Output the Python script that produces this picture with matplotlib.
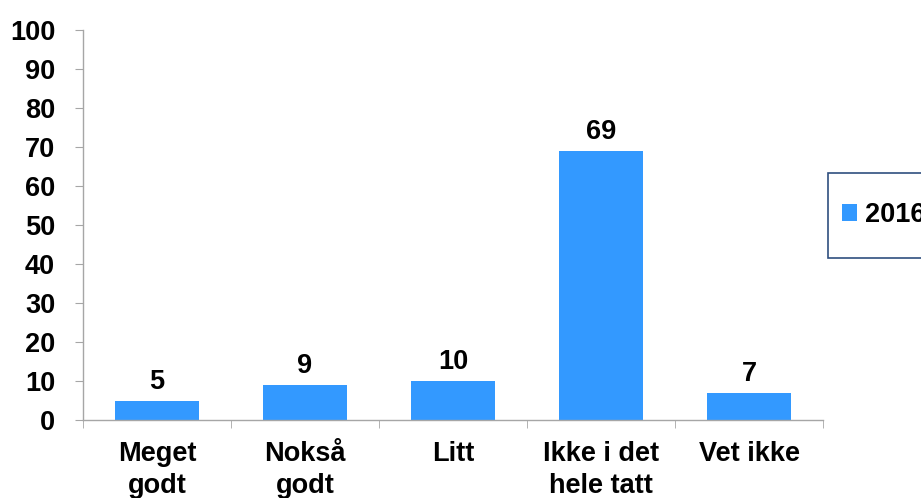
import matplotlib
matplotlib.use("Agg")
import matplotlib.pyplot as plt
from matplotlib.patches import Rectangle

categories = ["Meget\ngodt", "Nokså\ngodt", "Litt", "Ikke i det\nhele tatt", "Vet ikke"]
values_2016 = [5, 9, 10, 69, 7]
series_name = "2016"
y_ticks = [0, 10, 20, 30, 40, 50, 60, 70, 80, 90, 100]

BAR = "#3399FF"
AXIS = "#A6A6A6"
FONT = ["Liberation Sans", "DejaVu Sans"]
FS = 19.5

plt.rcParams["font.family"] = FONT
plt.rcParams["font.weight"] = "bold"

W, H = 921, 498
fig = plt.figure(figsize=(W / 100, H / 100), dpi=100)
ax = fig.add_axes([83 / W, 1 - 420 / H, (823 - 83) / W, (420 - 30) / H])

x = list(range(len(categories)))
bars = ax.bar(x, values_2016, width=0.57, color=BAR, label=series_name, zorder=2)

for xi, v in zip(x, values_2016):
    ax.annotate(f"{v}", (xi, v), xytext=(0, 4), textcoords="offset points",
                ha="center", va="bottom", fontsize=FS, fontweight="bold")

ax.set_xlim(-0.5, len(categories) - 0.5)
ax.set_ylim(0, 100)
ax.set_yticks(y_ticks)
ax.set_yticklabels([str(t) for t in y_ticks], fontsize=FS, fontweight="bold")

ax.set_xticks(x)
ax.set_xticklabels(categories, fontsize=FS, fontweight="bold", linespacing=1.33,
                   va="top")
ax.tick_params(axis="x", which="major", length=0, pad=15)
ax.set_xticks([i - 0.5 for i in range(len(categories) + 1)], minor=True)
ax.tick_params(axis="x", which="minor", length=6, color=AXIS, direction="out")
ax.tick_params(axis="y", length=6, color=AXIS, direction="out", pad=14)

for side in ("top", "right"):
    ax.spines[side].set_visible(False)
for side in ("left", "bottom"):
    ax.spines[side].set_color(AXIS)
    ax.spines[side].set_linewidth(1)

# legend panel on the right edge
frame = Rectangle((828 / W, 1 - 258 / H), 120 / W, 85 / H, transform=fig.transFigure,
                  facecolor="white", edgecolor="#2F4F7F", linewidth=1.2, clip_on=False)
fig.patches.append(frame)
leg = fig.legend(handles=[bars], labels=[series_name], loc="center left",
                 bbox_to_anchor=(842 / W, 1 - 215 / H), frameon=False,
                 borderpad=0, borderaxespad=0,
                 handlelength=0.55, handleheight=0.55, handletextpad=0.3,
                 prop={"family": FONT, "weight": "bold", "size": FS})

fig.savefig("out.png", dpi=100)
